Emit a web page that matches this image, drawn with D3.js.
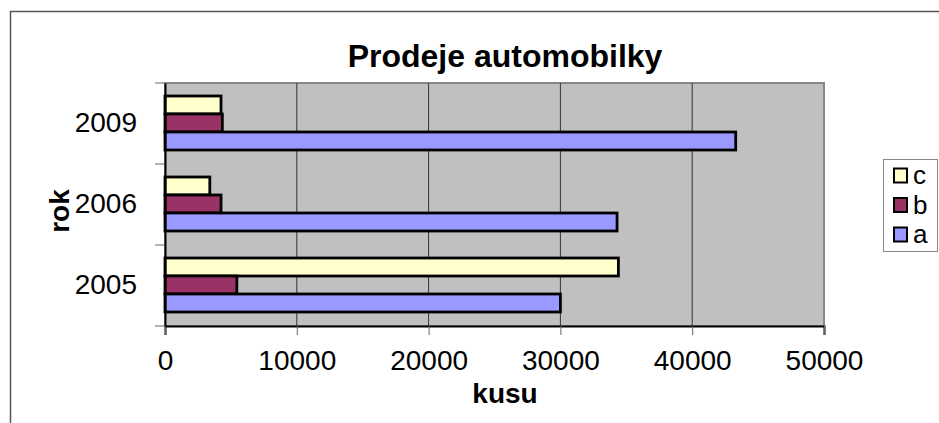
<!DOCTYPE html>
<html>
<head>
<meta charset="utf-8">
<script src="https://cdn.jsdelivr.net/npm/d3@7"></script>
<style>
  body { margin: 0; background: #fff; }
  svg { display: block; font-family: "Liberation Sans", Arial, sans-serif; }
</style>
</head>
<body>
<svg id="chart" width="939" height="423"></svg>
<script>
// data
const years = ['2009', '2006', '2005'];
const series = ['c', 'b', 'a'];
const valuesA = [43300, 34300, 30000];
const valuesB = [4350, 4250, 5450];
const valuesC = [4250, 3400, 34400];
const xTicks = [0, 10000, 20000, 30000, 40000, 50000];
const colors = { a: '#9999FF', b: '#993366', c: '#FFFFCC' };

const values = { a: valuesA, b: valuesB, c: valuesC };
const svg = d3.select('#chart');

// outer chart border (cut off at right and bottom)
svg.append('path')
  .attr('d', 'M10.5,423V11.5H939')
  .attr('fill', 'none').attr('stroke', '#555').attr('stroke-width', 1.5);

const x = d3.scaleLinear().domain([0, 50000]).range([165, 824]);
const y = d3.scaleBand().domain(years).range([83, 326]);
const inner = d3.scaleBand().domain(series).range([13, 67]);

// plot area
svg.append('rect')
  .attr('x', x(0)).attr('y', 83)
  .attr('width', x(50000) - x(0)).attr('height', 326 - 83)
  .attr('fill', '#C0C0C0').attr('stroke', '#888').attr('stroke-width', 2);

// gridlines
svg.append('g').selectAll('line').data(xTicks.slice(1, -1)).enter()
  .append('line')
  .attr('x1', (d) => x(d)).attr('x2', (d) => x(d))
  .attr('y1', 83).attr('y2', 326)
  .attr('stroke', '#333').attr('stroke-width', 1);

// bars
const groups = svg.append('g').selectAll('g').data(years).enter()
  .append('g')
  .attr('transform', (d) => `translate(0,${y(d)})`);

groups.each(function (yr, i) {
  d3.select(this).selectAll('rect').data(series).enter()
    .append('rect')
    .attr('x', x(0))
    .attr('y', (s) => inner(s))
    .attr('width', (s) => x(values[s][i]) - x(0))
    .attr('height', inner.bandwidth())
    .attr('fill', (s) => colors[s])
    .attr('stroke', '#000').attr('stroke-width', 2.8);
});

// x axis
const xAxis = svg.append('g')
  .attr('transform', 'translate(0,326)')
  .call(d3.axisBottom(x).tickValues(xTicks).tickSize(9).tickPadding(15).tickFormat(d3.format('d')));
xAxis.select('.domain').attr('stroke', '#000').attr('stroke-width', 2);
xAxis.selectAll('.tick line').attr('stroke', '#666');
xAxis.selectAll('text').attr('font-size', 28).attr('fill', '#000')
  .attr('font-family', '"Liberation Sans", Arial, sans-serif');

// y axis labels
const yAxis = svg.append('g')
  .attr('transform', `translate(${x(0)},0)`)
  .call(d3.axisLeft(y).tickSize(0).tickPadding(28));
yAxis.select('.domain').attr('stroke', '#000').attr('stroke-width', 2);
yAxis.selectAll('text').attr('font-size', 28).attr('fill', '#000')
  .attr('font-family', '"Liberation Sans", Arial, sans-serif');

// y ticks at band edges
const edges = years.map((d) => y(d)).concat([326]);
svg.append('g').selectAll('line').data(edges).enter()
  .append('line')
  .attr('x1', x(0) - 10).attr('x2', x(0))
  .attr('y1', (d) => d).attr('y2', (d) => d)
  .attr('stroke', '#666').attr('stroke-width', 1);

// titles
svg.append('text')
  .attr('x', 505).attr('y', 67)
  .attr('text-anchor', 'middle')
  .attr('font-size', 32).attr('font-weight', 'bold')
  .text('Prodeje automobilky');

svg.append('text')
  .attr('x', 505).attr('y', 403)
  .attr('text-anchor', 'middle')
  .attr('font-size', 28).attr('font-weight', 'bold')
  .text('kusu');

svg.append('text')
  .attr('transform', 'translate(69,211) rotate(-90)')
  .attr('text-anchor', 'middle')
  .attr('font-size', 28).attr('font-weight', 'bold')
  .text('rok');

// legend
const legend = svg.append('g');
legend.append('rect')
  .attr('x', 883.5).attr('y', 159.5).attr('width', 54).attr('height', 92)
  .attr('fill', '#fff').attr('stroke', '#888').attr('stroke-width', 1);

const ly = d3.scalePoint().domain(series).range([175.5, 234.5]);
const items = legend.selectAll('g.item').data(series).enter()
  .append('g').attr('class', 'item')
  .attr('transform', (s) => `translate(0,${ly(s)})`);
items.append('rect')
  .attr('x', 894).attr('y', -7).attr('width', 13).attr('height', 14)
  .attr('fill', (s) => colors[s]).attr('stroke', '#000').attr('stroke-width', 2);
items.append('text')
  .attr('x', 913).attr('y', 8.5)
  .attr('font-size', 26)
  .text((s) => s);
</script>
</body>
</html>
